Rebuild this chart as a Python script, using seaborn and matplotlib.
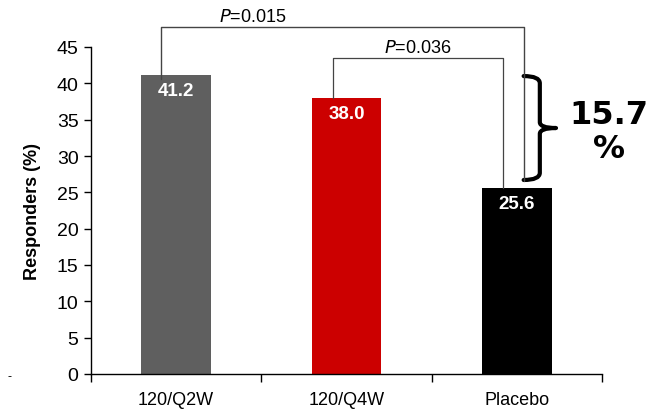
import matplotlib
matplotlib.use("Agg")
import matplotlib.pyplot as plt
import pandas as pd
import seaborn as sns
from matplotlib.path import Path
from matplotlib.patches import PathPatch

groups = ["120/Q2W", "120/Q4W", "Placebo"]
responders = [41.2, 38.0, 25.6]
bar_colors = ["#5f5f5f", "#cc0000", "#000000"]
p_labels = ["P=0.015", "P=0.036"]
diff_label = "15.7\n%"
yticks = [0, 5, 10, 15, 20, 25, 30, 35, 40, 45]

df = pd.DataFrame({"group": groups, "pct": responders})

sns.set_style("white")
plt.rcParams["font.family"] = ["Liberation Sans", "DejaVu Sans"]
plt.rcParams["text.color"] = "black"
plt.rcParams["xtick.color"] = "black"
plt.rcParams["ytick.color"] = "black"
plt.rcParams["axes.labelcolor"] = "black"

fig = plt.figure(figsize=(6.52, 4.14), dpi=100)
ax = fig.add_axes([91 / 652, 1 - 375 / 414, 511 / 652, 327 / 414])
sns.barplot(data=df, x="group", y="pct", hue="group", palette=bar_colors,
            width=0.41, saturation=1, legend=False, ax=ax, linewidth=0)

ax.set_ylim(0, 45)
ax.set_xlim(-0.5, 2.5)
ax.set_yticks(yticks)
ax.tick_params(axis="y", labelsize=14, length=5, width=1, direction="out", left=True, pad=4)
ax.tick_params(axis="x", which="major", length=0, labelsize=13, pad=12)
ax.set_xticks([-0.5, 0.5, 1.5, 2.5], minor=True)
ax.tick_params(axis="x", which="minor", length=6, width=1, direction="out", bottom=True)
ax.set_xlabel("")
ax.set_ylabel("Responders (%)", fontsize=13, fontweight="bold", labelpad=11)
for s in ["top", "right"]:
    ax.spines[s].set_visible(False)
for s in ["left", "bottom"]:
    ax.spines[s].set_color("black")
    ax.spines[s].set_linewidth(1)

# value labels inside bars
for i, v in enumerate(responders):
    ax.text(i, v - 1.0, f"{v:.1f}", color="white", fontsize=13.5, fontweight="bold",
            ha="center", va="top")

# significance brackets
lc = "#444444"
ax.plot([-0.09, -0.09, 2.04, 2.04], [responders[0] - 0.6, 47.7, 47.7, responders[2] + 0.9],
        color=lc, lw=1, clip_on=False)
ax.plot([0.918, 0.918, 1.92, 1.92], [responders[1], 43.5, 43.5, responders[2]],
        color=lc, lw=0.9, clip_on=False)
ax.text(0.45, 48.0, "$\\it{P}$=0.015", fontsize=13, ha="center", va="bottom")
ax.text(1.42, 43.8, "$\\it{P}$=0.036", fontsize=13, ha="center", va="bottom")

# curly brace for the difference
top, bot = responders[1] + 3.0, responders[2] + 1.1
mid = (top + bot) / 2
x0, x1, x2 = 2.04, 2.135, 2.23
verts = [(x0, top), (x1, top), (x1, top - 1.0),
         (x1, mid + 0.8),
         (x1, mid), (x2, mid),
         (x1, mid), (x1, mid - 0.8),
         (x1, bot + 1.0),
         (x1, bot), (x0, bot)]
codes = [Path.MOVETO, Path.CURVE3, Path.CURVE3, Path.LINETO,
         Path.CURVE3, Path.CURVE3, Path.CURVE3, Path.CURVE3,
         Path.LINETO, Path.CURVE3, Path.CURVE3]
ax.add_patch(PathPatch(Path(verts, codes), fill=False, lw=3, color="black",
                       capstyle="round", joinstyle="round", clip_on=False))
ax.text(2.54, mid - 0.5, diff_label, fontsize=23, fontweight="bold", ha="center",
        va="center", linespacing=1.15, family=["DejaVu Sans"])

fig.text(8 / 652, 1 - 377 / 414, "-", fontsize=9, ha="left", va="center")

fig.savefig("out.png", dpi=100)
